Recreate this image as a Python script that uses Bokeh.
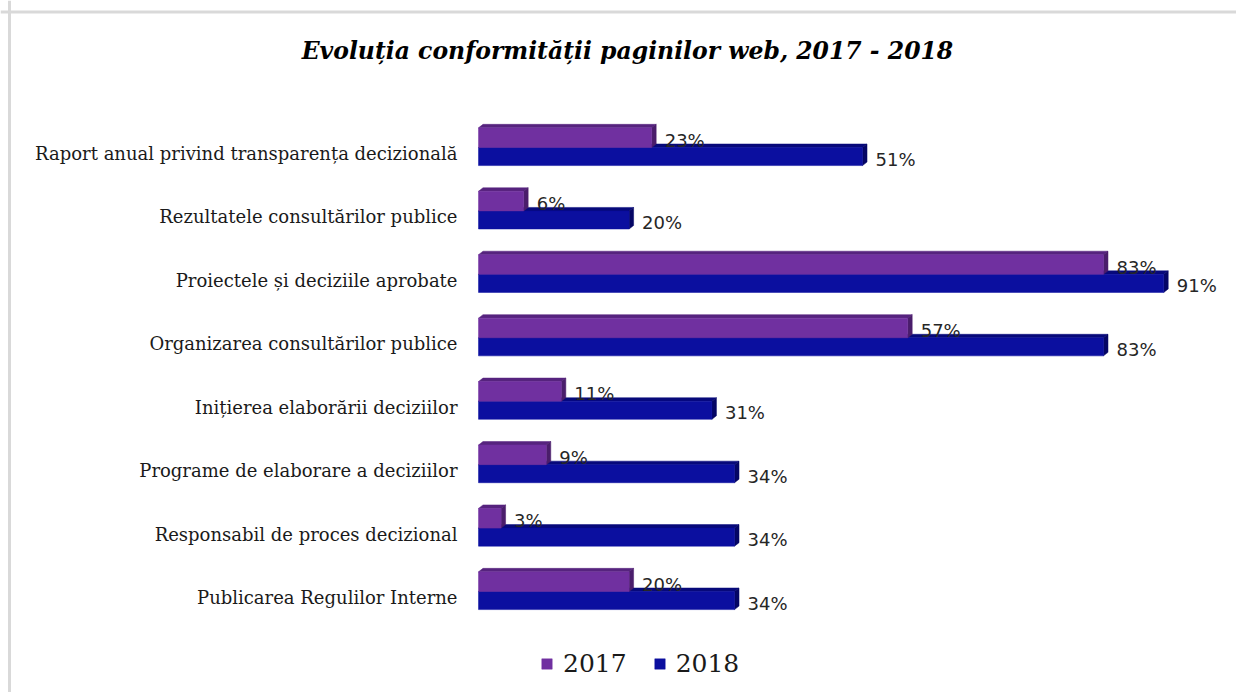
from bokeh.plotting import figure
from bokeh.models import Legend, LegendItem, Span, Range1d
from bokeh.core.properties import value
from bokeh.embed import file_html
from bokeh.resources import INLINE

# ---------------- data ----------------
categories = [
    "Raport anual privind transparența decizională",
    "Rezultatele consultărilor publice",
    "Proiectele și deciziile aprobate",
    "Organizarea consultărilor publice",
    "Inițierea elaborării deciziilor",
    "Programe de elaborare a deciziilor",
    "Responsabil de proces decizional",
    "Publicarea Regulilor Interne",
]
v2017 = [23, 6, 83, 57, 11, 9, 3, 20]
v2018 = [51, 20, 91, 83, 31, 34, 34, 34]
series_labels = ["2017", "2018"]
title_text = "Evoluția conformității  paginilor web, 2017 - 2018"

# ---------------- layout (pixels) ----------------
W, H = 1236, 692
PX_PER_PCT = 7.53
ZERO_PX = 478          # frame x of value 0
ROW_PX = 63.43         # distance between category rows
FIRST_ROW_PX = 147     # frame y (from top) of first row's series boundary

x0 = -ZERO_PX / PX_PER_PCT
x1 = x0 + W / PX_PER_PCT
n = len(categories)
centers = [n - 1 - i for i in range(n)]
y1 = centers[0] + FIRST_ROW_PX / ROW_PX
y0 = y1 - H / ROW_PX

def px_x(px):
    return x0 + px / PX_PER_PCT

def px_y(py):
    return y1 - py / ROW_PX

DX = 4.5 / PX_PER_PCT
DY = 3.5 / ROW_PX
H17 = 0.31
H18 = 0.285

p = figure(width=W, height=H, x_range=Range1d(x0, x1), y_range=Range1d(y0, y1),
           output_backend="svg", toolbar_location=None,
           x_axis_location=None, y_axis_location=None, min_border=0,
           outline_line_color=None, background_fill_color="white",
           border_fill_color="white")
p.grid.visible = False

# border lines (top & left)
p.add_layout(Span(location=px_y(11.5), dimension="width", line_color="#d9d9d9", line_width=3))
p.add_layout(Span(location=px_x(9.0), dimension="height", line_color="#d9d9d9", line_width=3))


def draw_series(vals, b_off, t_off, front, top, side):
    txs, tys, sxs, sys_ = [], [], [], []
    for v, c in zip(vals, centers):
        b = c + b_off
        t = c + t_off
        txs.append([0, v, v + DX, DX])
        tys.append([t, t, t + DY, t + DY])
        sxs.append([v, v + DX, v + DX, v])
        sys_.append([b, b + DY, t + DY, t])
    p.patches(txs, tys, fill_color=top, line_color=top, line_width=0.5)
    p.patches(sxs, sys_, fill_color=side, line_color=side, line_width=0.5)
    ys = [c + (b_off + t_off) / 2 for c in centers]
    r = p.hbar(y=ys, left=0, right=vals, height=t_off - b_off,
               fill_color=front, line_color=front, line_width=0.5)
    return r


r18 = draw_series(v2018, -H18, 0.0, "#0b0f9f", "#07097a", "#050665")
r17 = draw_series(v2017, 0.0, H17, "#7030a0", "#56237e", "#4a1d6b")

# data labels
LBL_OFF = 13 / PX_PER_PCT
p.text(x=[v + LBL_OFF for v in v2017], y=[c + H17 / 2 - 2.5 / ROW_PX for c in centers],
       text=[f"{v}%" for v in v2017], text_align="left", text_baseline="middle",
       text_font=value("DejaVu Sans"), text_font_size="18px", text_color="#262626")
p.text(x=[v + LBL_OFF for v in v2018], y=[c - H18 / 2 - 2.5 / ROW_PX for c in centers],
       text=[f"{v}%" for v in v2018], text_align="left", text_baseline="middle",
       text_font=value("DejaVu Sans"), text_font_size="18px", text_color="#262626")

# category labels
p.text(x=[-21 / PX_PER_PCT] * n, y=[c - 6 / ROW_PX for c in centers], text=categories,
       text_align="right", text_baseline="middle",
       text_font=value("DejaVu Serif"), text_font_size="18px", text_color="#1a1a1a")

# title
p.text(x=[px_x(631)], y=[px_y(50)], text=[title_text], text_align="center",
       text_baseline="middle", text_font=value("DejaVu Serif"),
       text_font_style="bold italic", text_font_size="23.5px", text_color="#000000")

legend = Legend(items=[LegendItem(label=series_labels[0], renderers=[r17]),
                       LegendItem(label=series_labels[1], renderers=[r18])],
                orientation="horizontal", location=(540, 14),
                glyph_width=13, glyph_height=13, label_standoff=10, spacing=26,
                padding=0, margin=0, border_line_color=None, background_fill_alpha=0,
                label_text_font="DejaVu Serif", label_text_font_size="25px",
                label_text_color="#1a1a1a")
p.add_layout(legend)

open("out.html", "w").write(file_html(p, INLINE))
